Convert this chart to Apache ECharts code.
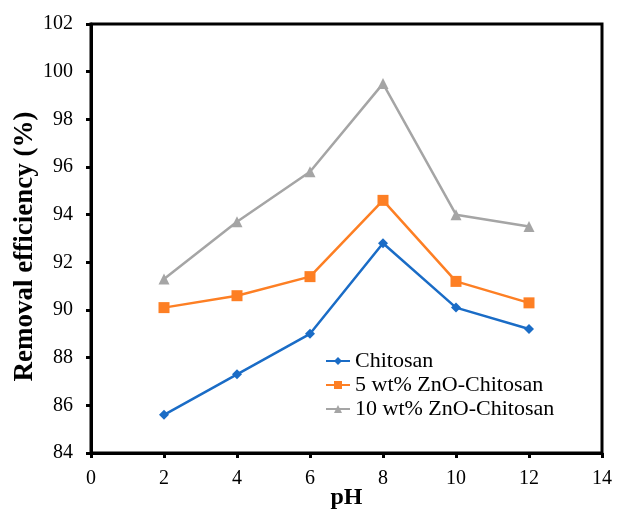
<!DOCTYPE html>
<html>
<head>
<meta charset="utf-8">
<script src="https://cdn.jsdelivr.net/npm/echarts@6/dist/echarts.min.js"></script>
<style>
  html, body { margin: 0; padding: 0; background: #fff; }
  #chart { width: 619px; height: 511px; }
</style>
</head>
<body>
<div id="chart"></div>
<script>
// pH values on the x axis
var phValues = [2, 4, 6, 8, 10, 12]

// removal efficiency (%)
var chitosan = [85.6, 87.3, 89.0, 92.8, 90.1, 89.2]
var zno5 = [90.1, 90.6, 91.4, 94.6, 91.2, 90.3]
var zno10 = [91.3, 93.7, 95.8, 99.5, 94.0, 93.5]

var seriesNames = ['Chitosan', '5 wt% ZnO-Chitosan', '10 wt% ZnO-Chitosan']

function pairs(ys) {
  return phValues.map(function (x, i) { return [x, ys[i]] })
}

var chartDom = document.getElementById('chart')
var myChart = echarts.init(chartDom)
var font = 'Liberation Serif'

var option = {
  animation: false,
  backgroundColor: '#fff',
  grid: {
    left: 91,
    right: 17,
    top: 24,
    bottom: 58,
    outerBoundsMode: 'none',
    containLabel: false,
    show: true,
    borderColor: '#000',
    borderWidth: 3
  },
  legend: {
    orient: 'vertical',
    left: 320,
    top: 345,
    itemGap: 2,
    itemWidth: 24,
    itemHeight: 10,
    textStyle: { fontFamily: font, fontSize: 22, color: '#000' },
    data: seriesNames
  },
  xAxis: {
    type: 'value',
    min: 0,
    max: 14,
    interval: 2,
    name: 'pH',
    nameLocation: 'middle',
    nameGap: 33,
    nameMoveOverlap: false,
    nameTextStyle: { fontFamily: font, fontSize: 24, fontWeight: 'bold', color: '#000' },
    axisLine: { show: true, lineStyle: { color: '#000', width: 3 } },
    axisTick: { show: true, inside: false, length: 5, lineStyle: { color: '#000', width: 3 } },
    axisLabel: { fontFamily: font, fontSize: 20, color: '#000', margin: 16 },
    splitLine: { show: false }
  },
  yAxis: {
    type: 'value',
    min: 84,
    max: 102,
    interval: 2,
    name: 'Removal efficiency (%)',
    nameLocation: 'middle',
    nameGap: 52,
    nameMoveOverlap: false,
    nameTextStyle: { fontFamily: font, fontSize: 27, fontWeight: 'bold', color: '#000', padding: [0, 16, 0, 0] },
    axisLine: { show: true, lineStyle: { color: '#000', width: 3 } },
    axisTick: { show: true, inside: false, length: 5, lineStyle: { color: '#000', width: 3 } },
    axisLabel: { fontFamily: font, fontSize: 20, color: '#000', margin: 18 },
    splitLine: { show: false }
  },
  series: [
    {
      name: seriesNames[0],
      type: 'line',
      data: pairs(chitosan),
      symbol: 'diamond',
      symbolSize: 10,
      color: '#1a6cc6',
      lineStyle: { width: 2.5 }
    },
    {
      name: seriesNames[1],
      type: 'line',
      data: pairs(zno5),
      symbol: 'rect',
      symbolSize: 11,
      color: '#fd7f24',
      lineStyle: { width: 2.5 }
    },
    {
      name: seriesNames[2],
      type: 'line',
      data: pairs(zno10),
      symbol: 'triangle',
      symbolSize: 11,
      color: '#a5a5a5',
      lineStyle: { width: 2.5 }
    }
  ]
}

option && myChart.setOption(option)
</script>
</body>
</html>
